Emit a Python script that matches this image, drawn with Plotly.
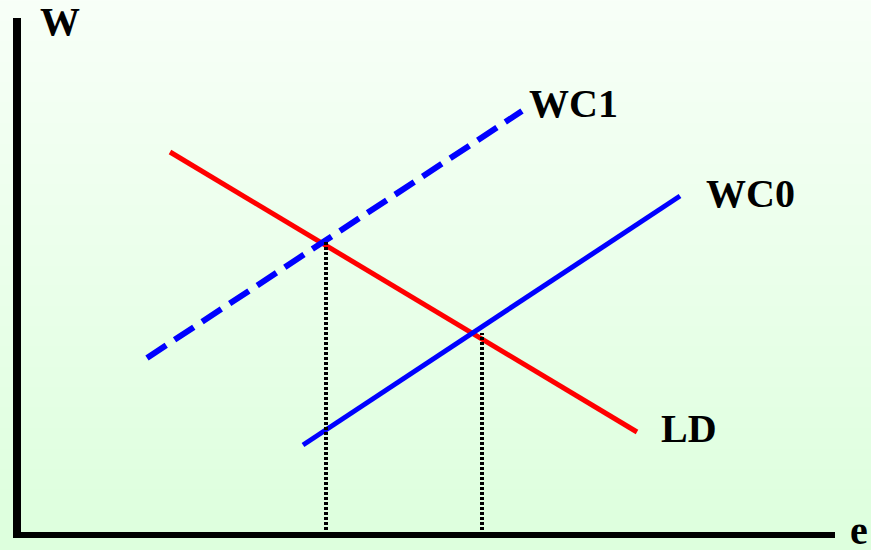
import numpy as np
import plotly.graph_objects as go

# Data (units: e on x, W on y; origin at axes corner)
ld_e = [15.3, 62.0]
ld_w = [38.3, 10.3]
wc1_e = [13.0, 50.5]
wc1_w = [17.7, 42.4]
wc0_e = [28.6, 66.3]
wc0_w = [9.0, 33.9]
drop1_e = [30.9, 30.9]
drop1_w = [0.0, 29.5]
drop2_e = [46.5, 46.5]
drop2_w = [0.0, 20.2]

labels = ["WC1", "WC0", "LD"]
label_e = [55.6, 73.3, 67.2]
label_w = [43.2, 34.2, 10.7]

X_RANGE = [-1.7, 85.4]
Y_RANGE = [-1.5, 53.5]

fig = go.Figure()

# background vertical gradient
gy = np.linspace(Y_RANGE[0] - 1, Y_RANGE[1] + 1, 60)
fig.add_trace(go.Heatmap(
    x=[X_RANGE[0] - 1, X_RANGE[1] + 1], y=gy,
    z=[[v, v] for v in gy],
    colorscale=[[0, "#dcffdc"], [1, "#f8fff8"]],
    showscale=False, hoverinfo="skip", zsmooth="best",
))

fig.add_trace(go.Scatter(x=ld_e, y=ld_w, mode="lines",
                         line=dict(color="#ff0000", width=5), hoverinfo="skip"))
fig.add_trace(go.Scatter(x=wc0_e, y=wc0_w, mode="lines",
                         line=dict(color="#0000ff", width=5), hoverinfo="skip"))
fig.add_trace(go.Scatter(x=wc1_e, y=wc1_w, mode="lines",
                         line=dict(color="#0000ff", width=6, dash="23px,10px"), hoverinfo="skip"))
for xe, yw in [(drop1_e, drop1_w), (drop2_e, drop2_w)]:
    fig.add_trace(go.Scatter(x=xe, y=yw, mode="lines",
                             line=dict(color="#000000", width=4, dash="3px,2px"), hoverinfo="skip"))

# axes
fig.add_shape(type="line", x0=0, x1=0, y0=-0.3, y1=51.7,
              line=dict(color="black", width=8), layer="above")
fig.add_shape(type="line", x0=-0.4, x1=81.8, y0=0, y1=0,
              line=dict(color="black", width=6), layer="above")

font = dict(family="Liberation Serif", size=40, color="black", weight="bold")
for t, xe, yw in zip(labels, label_e, label_w):
    fig.add_annotation(x=xe, y=yw, text=t, showarrow=False, font=font,
                       xanchor="center", yanchor="middle")
fig.add_annotation(x=4.3, y=51.4, text="W", showarrow=False, font=font,
                   xanchor="center", yanchor="middle")
fig.add_annotation(x=85.3, y=0.5, text="e", showarrow=False, font=font,
                   xanchor="right", yanchor="middle")

fig.update_layout(
    width=871, height=550,
    margin=dict(l=0, r=0, t=0, b=0),
    paper_bgcolor="#eaffea", plot_bgcolor="#eaffea",
    showlegend=False,
    xaxis=dict(range=X_RANGE, visible=False, fixedrange=True),
    yaxis=dict(range=Y_RANGE, visible=False, fixedrange=True),
)

fig.write_html("out.html", config={"displayModeBar": False},
               post_script="document.body.style.margin='0';")
